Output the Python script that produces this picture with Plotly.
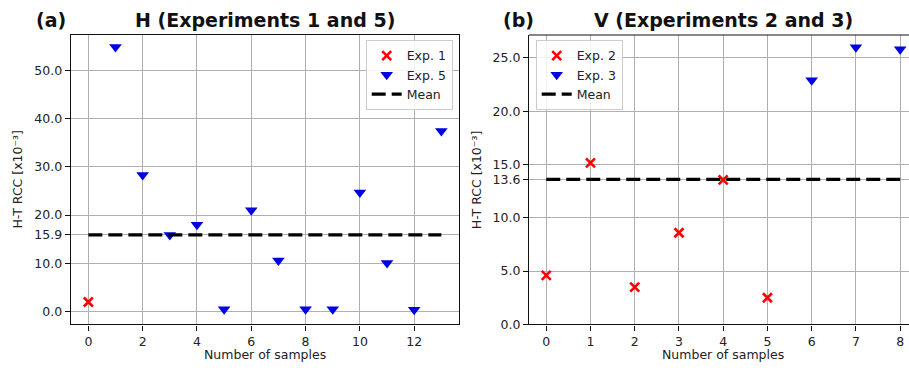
import plotly.graph_objects as go

# ---------------- data ----------------
h_exp1_x = [0]
h_exp1_y = [2.0]
h_exp5_x = [1, 2, 3, 4, 5, 6, 7, 8, 9, 10, 11, 12, 13]
h_exp5_y = [54.8, 28.3, 15.9, 18.0, 0.5, 21.0, 10.6, 0.5, 0.5, 24.7, 10.1, 0.4, 37.4]
h_mean = 15.9
h_yticks = [0.0, 10.0, 15.9, 20.0, 30.0, 40.0, 50.0]
h_xticks = [0, 2, 4, 6, 8, 10, 12]

v_exp2_x = [0, 1, 2, 3, 4, 5]
v_exp2_y = [4.6, 15.15, 3.5, 8.6, 13.55, 2.5]
v_exp3_x = [6, 7, 8]
v_exp3_y = [22.9, 26.0, 25.8]
v_mean = 13.6
v_yticks = [0.0, 5.0, 10.0, 13.6, 15.0, 20.0, 25.0]
v_xticks = [0, 1, 2, 3, 4, 5, 6, 7, 8]

W, H = 909, 370
FONT = "DejaVu Sans"
GRID = "#b0b0b0"

def px_x(p):
    return p / W

def px_y(p):
    return 1 - p / H

fig = go.Figure()

x_marker = dict(symbol="x-thin-open", size=9, color="red", line=dict(color="red", width=2.6))
tri_marker = dict(symbol="triangle-down", size=11, color="#0000e0", line=dict(width=0))
mean_line = dict(color="black", width=3.2, dash="14px,6px")

# left panel
fig.add_trace(go.Scatter(x=h_exp1_x, y=h_exp1_y, mode="markers", name="Exp. 1",
                         marker=x_marker, xaxis="x", yaxis="y", legend="legend"))
fig.add_trace(go.Scatter(x=h_exp5_x, y=h_exp5_y, mode="markers", name="Exp. 5",
                         marker=tri_marker, xaxis="x", yaxis="y", legend="legend"))
fig.add_trace(go.Scatter(x=[min(h_exp1_x), max(h_exp5_x)], y=[h_mean, h_mean], mode="lines",
                         name="Mean", line=mean_line, xaxis="x", yaxis="y", legend="legend"))

# right panel
fig.add_trace(go.Scatter(x=v_exp2_x, y=v_exp2_y, mode="markers", name="Exp. 2",
                         marker=x_marker, xaxis="x2", yaxis="y2", legend="legend2"))
fig.add_trace(go.Scatter(x=v_exp3_x, y=v_exp3_y, mode="markers", name="Exp. 3",
                         marker=tri_marker, xaxis="x2", yaxis="y2", legend="legend2"))
fig.add_trace(go.Scatter(x=[min(v_exp2_x), max(v_exp3_x)], y=[v_mean, v_mean], mode="lines",
                         name="Mean", line=mean_line, xaxis="x2", yaxis="y2", legend="legend2"))

tickfont = dict(family=FONT, size=12.5, color="#222")
axis_common = dict(showgrid=True, gridcolor=GRID, gridwidth=1, zeroline=False,
                   showline=True, linecolor="#111", linewidth=1.2,
                   ticks="outside", ticklen=5, tickwidth=1, tickcolor="#111",
                   tickfont=tickfont)

ydom = [px_y(330.7), px_y(35.7)]

fig.update_layout(
    width=W, height=H,
    margin=dict(l=0, r=0, t=0, b=0),
    paper_bgcolor="white", plot_bgcolor="white",
    font=dict(family=FONT, color="#222"),
    xaxis=dict(domain=[px_x(70.7), px_x(459)], range=[-0.65, 13.65], anchor="y",
               tickvals=h_xticks, ticktext=[str(t) for t in h_xticks], mirror=True, **axis_common),
    yaxis=dict(domain=ydom, range=[-2.64, 57.3], anchor="x",
               tickvals=h_yticks, ticktext=[f"{t:.1f}" for t in h_yticks], mirror=True, **axis_common),
    xaxis2=dict(domain=[px_x(529), 1.0], range=[-0.39, 8.2], anchor="y2",
                tickvals=v_xticks, ticktext=[str(t) for t in v_xticks], mirror=False, **axis_common),
    yaxis2=dict(domain=ydom, range=[0, 27.14], anchor="x2",
                tickvals=v_yticks, ticktext=[f"{t:.1f}" for t in v_yticks], mirror=False, **axis_common),
    legend=dict(x=px_x(452.7), y=px_y(40.7), xanchor="right", yanchor="top",
                bgcolor="rgba(255,255,255,0.85)", bordercolor="#cccccc", borderwidth=1,
                font=dict(family=FONT, size=12.5, color="#222"), tracegroupgap=0),
    legend2=dict(x=px_x(535.7), y=px_y(40.7), xanchor="left", yanchor="top",
                 bgcolor="rgba(255,255,255,0.85)", bordercolor="#cccccc", borderwidth=1,
                 font=dict(family=FONT, size=12.5, color="#222"), tracegroupgap=0),
    showlegend=True,
)

fig.add_shape(type="line", xref="paper", yref="paper", x0=px_x(529), x1=1.0,
              y0=ydom[1], y1=ydom[1], line=dict(color="#111", width=1.2))

title_font = dict(family=FONT, size=19, color="#111", weight="bold")
label_font = dict(family=FONT, size=12.5, color="#222")
annots = [
    dict(text="(a)", x=px_x(50.5), y=px_y(20)),
    dict(text="H (Experiments 1 and 5)", x=px_x(265), y=px_y(20)),
    dict(text="(b)", x=px_x(518.5), y=px_y(20)),
    dict(text="V (Experiments 2 and 3)", x=px_x(723), y=px_y(20)),
]
for a in annots:
    fig.add_annotation(xref="paper", yref="paper", xanchor="center", yanchor="middle",
                       showarrow=False, font=title_font, **a)

for x, y, t, ang in [
    (265, 361.5, "Number of samples", 0),
    (723.3, 361.5, "Number of samples", 0),
    (18, 183, "H-T RCC [x10\u207b\u00b3]", -90),
    (476.7, 183, "H-T RCC [x10\u207b\u00b3]", -90),
]:
    fig.add_annotation(xref="paper", yref="paper", x=px_x(x), y=px_y(y), text=t,
                       textangle=ang, xanchor="center", yanchor="middle",
                       showarrow=False, font=label_font)

fig.write_html("out.html")
